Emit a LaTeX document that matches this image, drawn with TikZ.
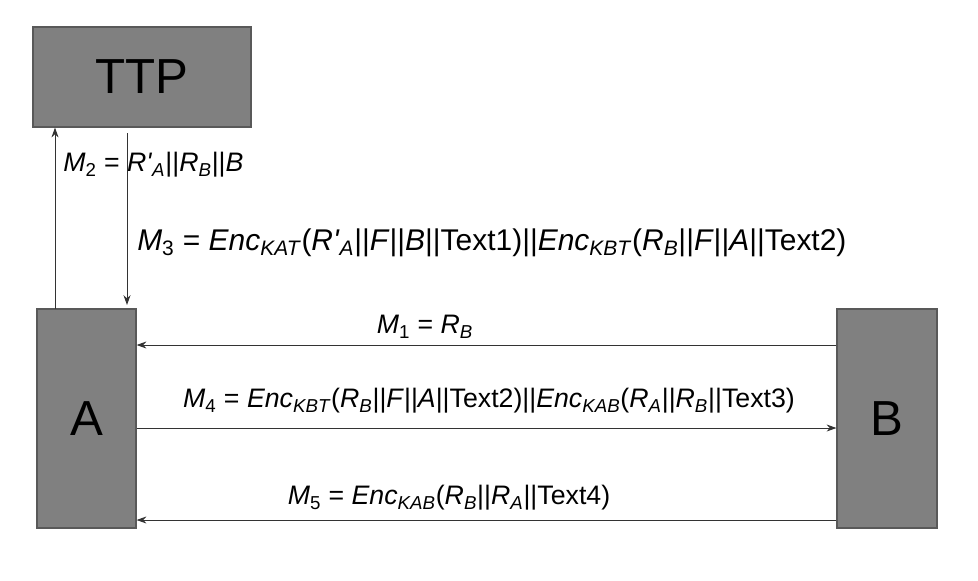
\documentclass[tikz,border=0pt]{standalone}
\usepackage{fontspec}
\setmainfont{Liberation Sans}
\usetikzlibrary{arrows.meta,positioning}

\newcommand{\iv}[2]{\textit{#1}\textsubscript{#2}}
\newcommand{\rpa}{\iv{R\textquotesingle}{\textit{A}}}

\begin{document}
\begin{tikzpicture}[x=0.025cm, y=-0.025cm,
    party/.style = {draw = black!65, fill = black!50, line width = 0.8pt, inner sep = 0pt,
                    font = \fontsize{35}{40}\selectfont},
    msg/.style   = {draw = black!80, line width = 0.7pt, -{Stealth[length = 7pt, width = 5pt]}},
    lbl/.style   = {font = \fontsize{19}{22}\selectfont, inner sep = 0pt}]

  \useasboundingbox (0,0) rectangle (978,580);

  % Parties
  \node[party, minimum width = 5.45cm,  minimum height = 2.5cm]   (ttp) at (142, 77)    {TTP};
  \node[party, minimum width = 2.475cm, minimum height = 5.475cm] (a)   at (86.5, 418.5) {A};
  \node[party, minimum width = 2.5cm,   minimum height = 5.475cm] (b)   at (887, 418.5)  {B};

  % Messages between A and TTP
  \coordinate (up)   at (55, 309);
  \coordinate (dnt)  at (127, 133);
  \coordinate (dnb)  at (127, 305);
  \draw[msg] (up) -- (up |- ttp.south);
  \draw[msg] (dnt) -- (dnb);

  \node[lbl, anchor = west] (m2) at (63, 165)
    {\iv{M}{2} = \rpa||\iv{R}{\textit{B}}||\textit{B}};
  \node[lbl, anchor = west, font = \fontsize{21.3}{24}\selectfont] (m3) at (137, 243)
    {\iv{M}{3} = \iv{Enc}{\textit{KAT}}(\rpa||\textit{F}||\textit{B}||Text1)||\iv{Enc}{\textit{KBT}}(\iv{R}{\textit{B}}||\textit{F}||\textit{A}||Text2)};

  % Messages between A and B
  \coordinate (m1b) at (b.west |- 0, 345);
  \coordinate (m4a) at (a.east |- 0, 428);
  \coordinate (m5b) at (b.west |- 0, 520);
  \draw[msg] (m1b) -- (m1b -| a.east);
  \draw[msg] (m4a) -- (m4a -| b.west);
  \draw[msg] (m5b) -- (m5b -| a.east);

  \node[lbl] (m1) at (425, 327) {\iv{M}{1} = \iv{R}{\textit{B}}};
  \node[lbl] (m4) at (489, 401)
    {\iv{M}{4} = \iv{Enc}{\textit{KBT}}(\iv{R}{\textit{B}}||\textit{F}||\textit{A}||Text2)||\iv{Enc}{\textit{KAB}}(\iv{R}{\textit{A}}||\iv{R}{\textit{B}}||Text3)};
  \node[lbl] (m5) at (449, 498)
    {\iv{M}{5} = \iv{Enc}{\textit{KAB}}(\iv{R}{\textit{B}}||\iv{R}{\textit{A}}||Text4)};

\end{tikzpicture}
\end{document}
